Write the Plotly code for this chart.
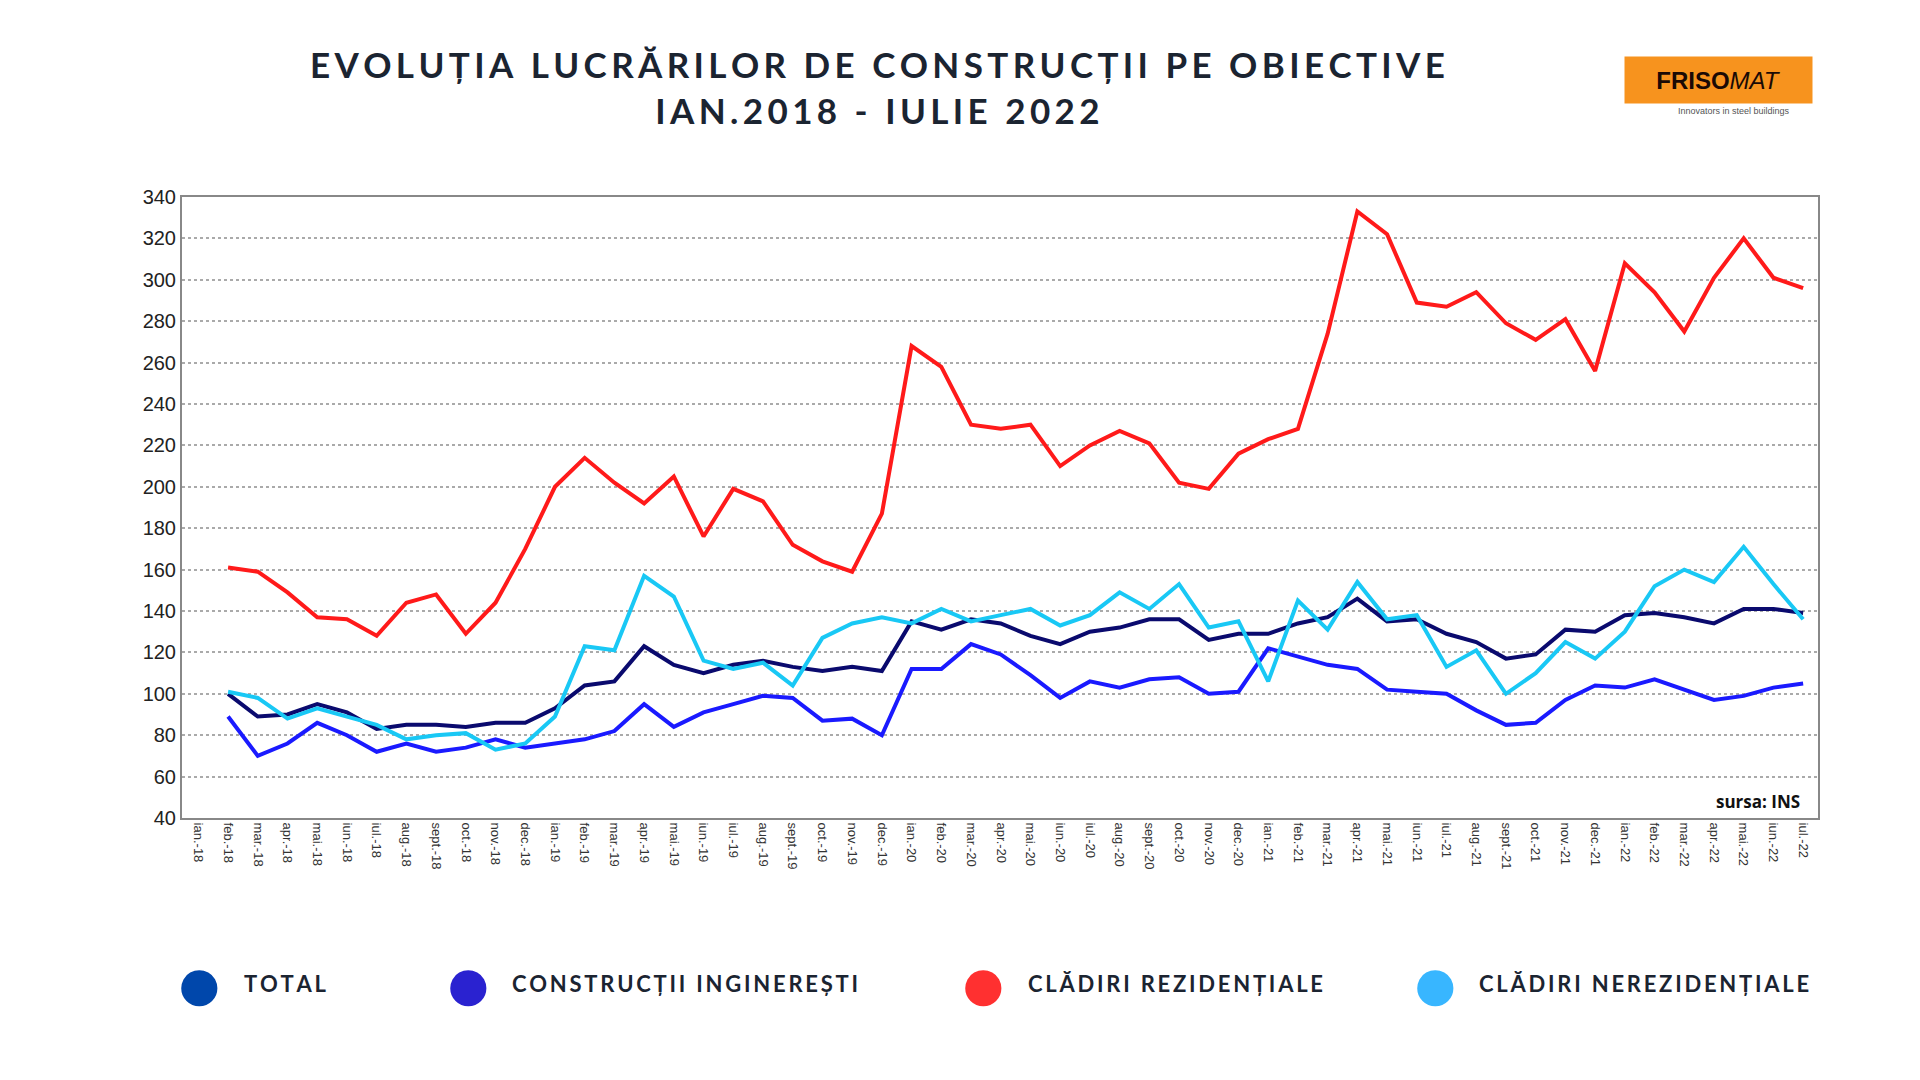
import plotly.graph_objects as go

months = ['ian.', 'feb.', 'mar.', 'apr.', 'mai.', 'iun.', 'iul.', 'aug.', 'sept.', 'oct.', 'nov.', 'dec.']
labels = [m + '-' + y for y in ['18', '19', '20', '21'] for m in months] + [m + '-22' for m in months[:7]]

# values from feb.-18 to iul.-22 (ian.-18 has no point)
total = [None, 100, 89, 90, 95, 91, 83, 85, 85, 84, 86, 86,
         93, 104, 106, 123, 114, 110, 114, 116, 113, 111, 113, 111,
         135, 131, 136, 134, 128, 124, 130, 132, 136, 136, 126, 129,
         129, 134, 137, 146, 135, 136, 129, 125, 117, 119, 131, 130,
         138, 139, 137, 134, 141, 141, 139]
inginerești = [None, 89, 70, 76, 86, 80, 72, 76, 72, 74, 78, 74,
               76, 78, 82, 95, 84, 91, 95, 99, 98, 87, 88, 80,
               112, 112, 124, 119, 109, 98, 106, 103, 107, 108, 100, 101,
               122, 118, 114, 112, 102, 101, 100, 92, 85, 86, 97, 104,
               103, 107, 102, 97, 99, 103, 105]
rezidentiale = [None, 161, 159, 149, 137, 136, 128, 144, 148, 129, 144, 170,
                200, 214, 202, 192, 205, 176, 199, 193, 172, 164, 159, 187,
                268, 258, 230, 228, 230, 210, 220, 227, 221, 202, 199, 216,
                223, 228, 274, 333, 322, 289, 287, 294, 279, 271, 281, 256,
                308, 294, 275, 301, 320, 301, 296]
nerezidentiale = [None, 101, 98, 88, 93, 89, 85, 78, 80, 81, 73, 76,
                  89, 123, 121, 157, 147, 116, 112, 115, 104, 127, 134, 137,
                  134, 141, 135, 138, 141, 133, 138, 149, 141, 153, 132, 135,
                  106, 145, 131, 154, 136, 138, 113, 121, 100, 110, 125, 117,
                  130, 152, 160, 154, 171, 153, 136]

series = [
    ('TOTAL', total, '#0a0a6e', '#0047ab'),
    ('CONSTRUCȚII INGINEREȘTI', inginerești, '#1a1aff', '#2a22d0'),
    ('CLĂDIRI REZIDENȚIALE', rezidentiale, '#ff1a1a', '#ff3030'),
    ('CLĂDIRI NEREZIDENȚIALE', nerezidentiale, '#19c8f5', '#38b6ff'),
]

def spaced(s):
    # fake letter spacing
    return '\u2009'.join(s).replace('\u2009 \u2009', '\u2002')

x = list(range(len(labels)))
fig = go.Figure()
for name, vals, col, _ in series:
    fig.add_trace(go.Scatter(x=x, y=vals, mode='lines', name=name,
                             line=dict(color=col, width=4), showlegend=False))

fig.update_layout(
    width=1920, height=1080,
    paper_bgcolor='white', plot_bgcolor='white',
    margin=dict(l=174, r=110, t=189, b=270),
    font=dict(family='Liberation Sans', color='#222'),
)
fig.update_xaxes(range=[-0.55, 54.5], tickvals=x, ticktext=labels, tickangle=90,
                 tickfont=dict(size=13, color='#333'), showgrid=False,
                 showline=True, linecolor='#888', linewidth=2, mirror=True, ticks='')
fig.update_yaxes(range=[40, 340], dtick=20, tickfont=dict(size=20, color='#222'),
                 showgrid=True, gridcolor='#aaa', griddash='dot', gridwidth=1.5,
                 showline=True, linecolor='#888', linewidth=2, mirror=True, zeroline=False)

# title
fig.add_annotation(xref='paper', yref='paper', x=0.425, y=1.0, yshift=110, xanchor='center', yanchor='middle',
                   text='<b>' + spaced('EVOLUȚIA LUCRĂRILOR DE CONSTRUCȚII PE OBIECTIVE') + '<br>' + spaced('IAN.2018 - IULIE 2022') + '</b>',
                   showarrow=False, font=dict(family='Lato', size=35, color='#1b2431'))

# logo
fig.add_annotation(xref='paper', yref='paper', x=1.0, y=1.0, yshift=117, xshift=-5, xanchor='right', yanchor='middle',
                   text='<b>FRISO</b><i>MAT</i>', showarrow=False, bgcolor='#f7931e',
                   width=185, height=44, font=dict(family='Liberation Sans', size=24, color='#1a0a05'))
fig.add_annotation(xref='paper', yref='paper', x=1.0, y=1.0, yshift=86, xshift=-26, xanchor='right', yanchor='middle',
                   text='Innovators in steel buildings', showarrow=False,
                   font=dict(family='Liberation Sans', size=9, color='#555'))

# source
fig.add_annotation(xref='paper', yref='paper', x=0.99, y=0.005, xanchor='right', yanchor='bottom',
                   text='<b>sursa: INS</b>', showarrow=False,
                   font=dict(family='Open Sans', size=17, color='#111'))

# legend
leg_x = [0.011, 0.175, 0.49, 0.766]
for (name, _, _, dot), lx in zip(series, leg_x):
    fig.add_annotation(xref='paper', yref='paper', x=lx, y=-0.266, xanchor='center', yanchor='middle',
                       text='●', showarrow=False, font=dict(size=84, color=dot))
    fig.add_annotation(xref='paper', yref='paper', x=lx, xshift=42, y=-0.266, xanchor='left', yanchor='middle',
                       text='<b>' + spaced(name) + '</b>', showarrow=False,
                       font=dict(family='Lato', size=22, color='#1b2431'))

fig.write_html('out.html')
